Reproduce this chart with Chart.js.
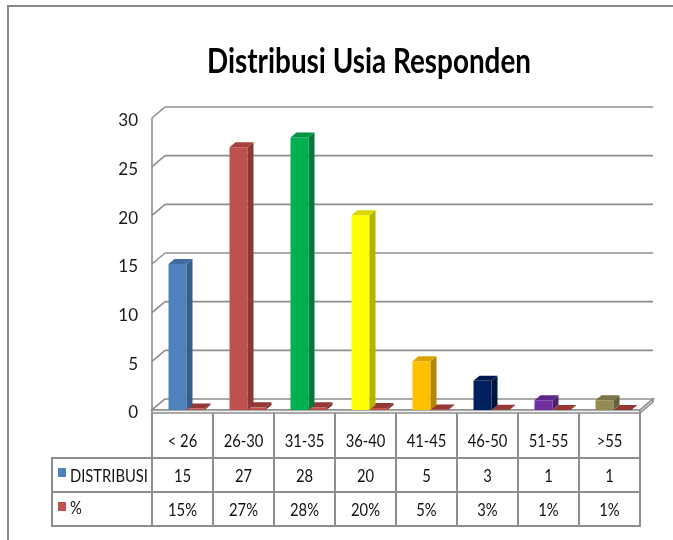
<!DOCTYPE html>
<html><head><meta charset="utf-8">
<script src="https://cdn.jsdelivr.net/npm/chart.js@4.4.1/dist/chart.umd.min.js"></script>
<style>html,body{margin:0;padding:0;background:#fff;}#wrap{width:673px;height:540px;position:relative;}</style>
</head><body><div id="wrap"><canvas id="c" width="673" height="540"></canvas></div>
<script>
const titleText = 'Distribusi Usia Responden';
const categories = ['< 26','26-30','31-35','36-40','41-45','46-50','51-55','>55'];
const distribusi = [15,27,28,20,5,3,1,1];
const persen = [0.15,0.27,0.28,0.20,0.05,0.03,0.01,0.01];
const persenLabels = ['15%','27%','28%','20%','5%','3%','1%','1%'];
const seriesNames = ['DISTRIBUSI','%'];
const yMin = 0, yMax = 30, yStep = 5;

const barColors  = ['#4F81BD','#C0504D','#00B050','#FFFF00','#FFC000','#002060','#7030A0','#948A54'];
const sideColors = ['#385D8A','#8C3836','#007A38','#B3B300','#B38600','#00143D','#4E2270','#67603B'];
const topColors  = ['#3F6CA3','#A5403D','#009244','#D9D900','#DAA300','#001A4E','#5E2888','#7D7547'];
const pctColor = '#C0504D', pctTop = '#953735', pctSide = '#7A2C2A';

const FONT = "Lato,'Liberation Sans',sans-serif";
const DX = 13, DY = -11;   // wall depth
const BDX = 6, BDY = -5;   // bar depth
const SHIFT = 4;
const GRID = '#8e8e8e';

function poly(ctx, pts, fill, stroke){
  ctx.beginPath();
  ctx.moveTo(pts[0][0], pts[0][1]);
  for (let i=1;i<pts.length;i++) ctx.lineTo(pts[i][0], pts[i][1]);
  ctx.closePath();
  if (fill){ ctx.fillStyle = fill; ctx.fill(); }
  if (stroke){ ctx.strokeStyle = stroke; ctx.stroke(); }
}
function line(ctx,x1,y1,x2,y2){ ctx.beginPath(); ctx.moveTo(x1,y1); ctx.lineTo(x2,y2); ctx.stroke(); }
function text(ctx, s, x, y, sx, align){
  ctx.save(); ctx.translate(x, y); ctx.scale(sx, 1);
  ctx.textAlign = align; ctx.textBaseline = 'middle';
  ctx.fillText(s, 0, 0); ctx.restore();
}

const scene = {
  id: 'scene3d',
  beforeDatasetsDraw(chart){
    const ctx = chart.ctx, ys = chart.scales.y, ca = chart.chartArea;
    const left = ca.left - SHIFT, right = ca.right - SHIFT;
    const y0 = ys.getPixelForValue(0);
    ctx.save();
    ctx.strokeStyle = '#8a8a8a'; ctx.lineWidth = 2;
    line(ctx, 8, 6, 8, 540); line(ctx, 7, 6, 673, 6);
    // title
    ctx.fillStyle = '#000'; ctx.font = 'bold 34px ' + FONT;
    const tw = ctx.measureText(titleText).width;
    text(ctx, titleText, 369, 62, 324/tw, 'center');
    // walls
    ctx.strokeStyle = GRID; ctx.lineWidth = 1.6;
    ys.ticks.forEach(t => {
      const yf = ys.getPixelForValue(t.value);
      line(ctx, left, yf, left+DX, yf+DY);
      if (t.value > 0) line(ctx, left+DX, yf+DY, right+DX, yf+DY);
    });
    line(ctx, left, ys.getPixelForValue(yMax), left, y0);
    // floor
    poly(ctx, [[left,y0],[right,y0],[right+DX,y0+DY],[left+DX,y0+DY]], '#ffffff', GRID);
    poly(ctx, [[left,y0],[right,y0],[right,y0+3],[left,y0+3]], '#f2f2f2', GRID);
    poly(ctx, [[right,y0],[right+DX,y0+DY],[right+DX,y0+DY+3],[right,y0+3]], '#e6e6e6', GRID);
    ctx.restore();
  },
  afterDatasetsDraw(chart){
    const ctx = chart.ctx;
    ctx.save();
    for (let d = chart.data.datasets.length-1; d >= 0; d--){
      const meta = chart.getDatasetMeta(d);
      meta.data.forEach((el, i) => {
        const p = el.getProps(['x','y','base','width'], true);
        const l = p.x - p.width/2, r = p.x + p.width/2, top = p.y, base = p.base;
        const side = d === 0 ? sideColors[i] : pctSide;
        const tp = d === 0 ? topColors[i] : pctTop;
        poly(ctx, [[r,top],[r+BDX,top+BDY],[r+BDX,base+BDY],[r,base]], side);
        poly(ctx, [[l,top],[r,top],[r+BDX,top+BDY],[l+BDX,top+BDY]], tp);
      });
    }
    ctx.restore();
  },
  afterDraw(chart){
    const ctx = chart.ctx, xs = chart.scales.x;
    const half = (xs.getPixelForValue(1) - xs.getPixelForValue(0))/2;
    const edges = [];
    for (let i=0;i<categories.length;i++) edges.push(xs.getPixelForValue(i) - half - SHIFT);
    edges.push(xs.getPixelForValue(categories.length-1) + half - SHIFT);
    const tLeft = 52, hTop = 413, r1 = 458, r2 = 492, r3 = 526;
    const right = edges[edges.length-1];
    ctx.save();
    ctx.strokeStyle = GRID; ctx.lineWidth = 2;
    edges.forEach(x => line(ctx, x, hTop, x, r3));
    line(ctx, tLeft, r1, tLeft, r3);
    [r1, r2, r3].forEach(y => line(ctx, tLeft-1, y, right+1, y));
    ctx.fillStyle = '#111'; ctx.font = '18px ' + FONT;
    const sx = 78 / ctx.measureText(seriesNames[0]).width;
    categories.forEach((c,i) => {
      const cx = (edges[i]+edges[i+1])/2;
      text(ctx, c, cx, 441, sx, 'center');
      text(ctx, String(distribusi[i]), cx, 476, sx, 'center');
      text(ctx, persenLabels[i], cx, 510, sx, 'center');
    });
    text(ctx, seriesNames[0], 70, 476, sx, 'left');
    text(ctx, seriesNames[1], 70, 508, sx, 'left');
    ctx.fillStyle = barColors[0]; ctx.fillRect(58, 468, 8, 9);
    ctx.fillStyle = pctColor; ctx.fillRect(58, 502, 8, 9);
    ctx.restore();
  }
};

new Chart(document.getElementById('c'), {
  type: 'bar',
  data: {
    labels: categories,
    datasets: [
      { label: seriesNames[0], data: distribusi, backgroundColor: barColors, borderWidth: 0,
        categoryPercentage: 0.59, barPercentage: 1.0 },
      { label: seriesNames[1], data: persen, backgroundColor: pctColor, borderWidth: 0,
        categoryPercentage: 0.59, barPercentage: 1.0 }
    ]
  },
  options: {
    responsive: false, animation: false, devicePixelRatio: 1,
    layout: { padding: { left: 0, right: 673-644, top: 118, bottom: 130 } },
    plugins: { legend: { display: false }, title: { display: false }, tooltip: { enabled: false } },
    scales: {
      x: { display: false, offset: true },
      y: {
        min: yMin, max: yMax,
        grid: { display: false, drawTicks: false },
        border: { display: false },
        ticks: { stepSize: yStep, padding: 18, color: '#1a1a1a', labelOffset: 3, font: { size: 17, family: FONT } },
        afterFit: s => { s.width = 156; }
      }
    }
  },
  plugins: [scene]
});
</script></body></html>
